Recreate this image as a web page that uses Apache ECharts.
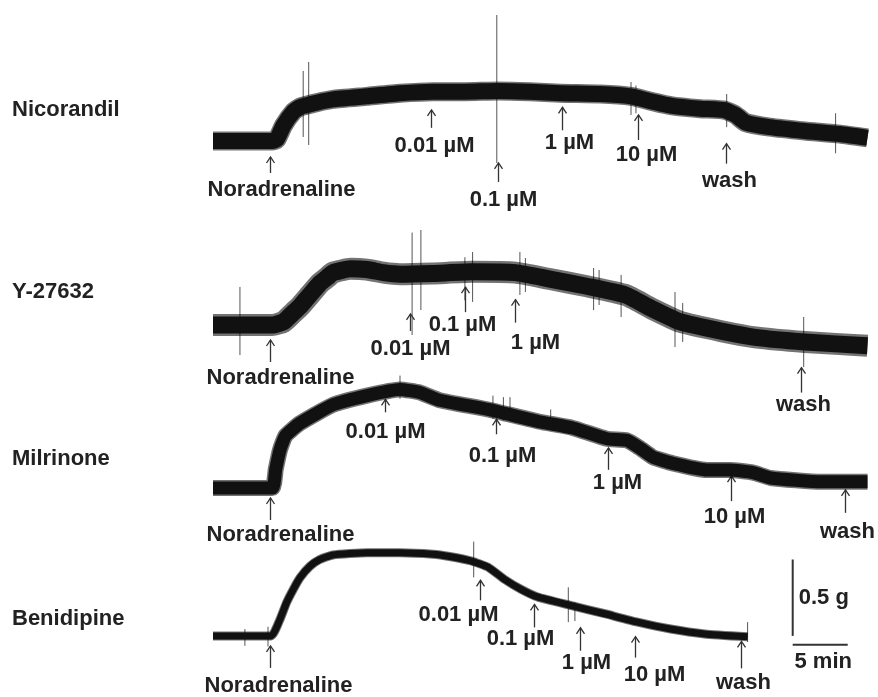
<!DOCTYPE html>
<html><head><meta charset="utf-8">
<script src="https://cdn.jsdelivr.net/npm/echarts@6/dist/echarts.min.js"></script>
<style>html,body{margin:0;padding:0;background:#fff}#c{width:878px;height:697px}</style>
</head><body><div id="c"></div>
<script>
// ---------- DATA (time in min, tension change in g vs resting level) ----------
const traceNames = ['Nicorandil', 'Y-27632', 'Milrinone', 'Benidipine'];

const nicorandil = [[0,0],[2.5,0],[5.4,0],[5.8,0.01],[6.4,0.10],[7.3,0.19],[7.9,0.22],[9.5,0.25],[10.9,0.27],[14.0,0.29],[17.0,0.31],[20.0,0.32],[22.9,0.32],[25.9,0.325],[28.8,0.32],[31.6,0.31],[35.2,0.305],[38.0,0.29],[39.7,0.26],[41.6,0.23],[44.3,0.21],[46.5,0.20],[47.5,0.17],[48.4,0.12],[50.6,0.09],[53.8,0.065],[57.0,0.045],[59.5,0.02]];
const y27632 = [[0,0],[2.5,0],[5.4,0],[6.4,0.02],[7.3,0.08],[7.9,0.12],[8.8,0.195],[9.7,0.27],[10.4,0.31],[10.9,0.34],[12.5,0.365],[14.0,0.36],[15.5,0.34],[17.0,0.33],[20.0,0.335],[23.5,0.345],[27.5,0.34],[30.5,0.30],[34.1,0.25],[37.5,0.195],[39.8,0.11],[42.5,0.02],[46.2,-0.04],[49.3,-0.08],[53.8,-0.11],[59.5,-0.135]];
const milrinone = [[0,0],[2.5,0],[5.4,0],[5.7,0.12],[6.1,0.25],[6.6,0.34],[7.9,0.42],[10.9,0.54],[14.0,0.60],[17.0,0.64],[18.8,0.62],[20.6,0.57],[25.0,0.51],[29.7,0.43],[32.7,0.39],[35.8,0.32],[37.6,0.31],[38.8,0.26],[40.0,0.20],[41.8,0.16],[44.9,0.117],[47.0,0.117],[49.1,0.10],[50.7,0.065],[55.3,0.04],[59.5,0.04]];
const benidipine = [[0,0],[2.5,0],[5.3,0],[6.1,0.11],[6.7,0.22],[7.3,0.305],[7.9,0.38],[8.8,0.455],[9.7,0.50],[10.9,0.53],[14.0,0.545],[17.0,0.545],[20.0,0.535],[21.5,0.52],[23.5,0.49],[25.0,0.45],[26.5,0.37],[28.0,0.305],[29.5,0.255],[32.5,0.20],[35.6,0.145],[38.6,0.09],[41.6,0.045],[44.7,0.013],[48.6,-0.006]];

// artefact spikes: [time, low g, high g]
const nicorandilSpikes = [[8.2,0.026,0.455],[8.7,-0.026,0.513],[25.8,-0.143,0.818],[38.0,0.169,0.383],[38.45,0.18,0.36],[46.7,0.09,0.305],[56.6,-0.08,0.18]];
const y27632Spikes = [[2.45,-0.195,0.247],[18.1,-0.065,0.60],[18.9,0.097,0.617],[22.9,0.16,0.44],[23.6,0.15,0.474],[27.9,0.195,0.474],[28.4,0.214,0.435],[34.6,0.097,0.37],[35.1,0.13,0.357],[37.1,0.052,0.325],[42.0,-0.143,0.214],[42.7,-0.11,0.143],[53.7,-0.273,0.052]];
const milrinoneSpikes = [[17.0,0.58,0.73],[25.45,0.45,0.60],[26.4,0.44,0.59],[27.0,0.49,0.59],[30.7,0.39,0.51]];
const benidipineSpikes = [[2.9,-0.065,0.045],[5.0,-0.07,0.06],[23.7,0.383,0.617],[32.3,0.09,0.318],[32.9,0.097,0.22],[48.6,-0.04,0.09]];

// drug additions
const nicorandilEvents = ['Noradrenaline','0.01 µM','0.1 µM','1 µM','10 µM','wash'];
const nicorandilEventTimes = [5.18,19.8,25.9,31.7,38.6,46.6];
const y27632Events = ['Noradrenaline','0.01 µM','0.1 µM','1 µM','wash'];
const y27632EventTimes = [5.18,17.9,22.9,27.45,53.45];
const milrinoneEvents = ['Noradrenaline','0.01 µM','0.1 µM','1 µM','10 µM','wash'];
const milrinoneEventTimes = [5.18,15.6,25.7,35.9,47.1,57.45];
const benidipineEvents = ['Noradrenaline','0.01 µM','0.1 µM','1 µM','10 µM','wash'];
const benidipineEventTimes = [5.18,24.3,29.2,33.4,38.4,48.0];

// calibration bar
const scaleTension = 0.5;   // g
const scaleTime = 5;        // min
const scaleLabels = ['0.5 g', '5 min'];

// ---------- LAYOUT / STYLE ----------
const PX_PER_MIN = 11, PX_PER_G = 154, Y_MIN = -0.4, Y_MAX = 0.9, X_MAX = 60;
const baselinePx = [141, 325, 488, 637];
const bandWidth = [16, 17, 13, 7];
const haloWidth = [19, 22, 16, 9];
const nameY = [111, 293, 460, 620];
// per event: [arrow tip below trace centre, arrow length, label centre below arrow end, label dx]
const eventLayout = [
  [[16,16,17,11],[18,18,18,3],[72,19,18,5],[14,23,13,7],[17,25,15,8],[33,20,17,3]],
  [[15,22,16,10],[40,17,18,0],[15,25,13,-3],[27,23,20,20],[26,25,12,2]],
  [[10,22,15,10],[7,13,20,0],[8,15,22,6],[9,22,13,9],[6,25,16,3],[8,23,19,2]],
  [[10,22,18,8],[16,20,15,-22],[9,23,12,-14],[20,23,12,6],[15,21,17,19],[5,27,15,2]]
];
const scaleBarT = 52.7;
const FONT = 'bold 22px "Liberation Sans", Arial, sans-serif';

const traces = [nicorandil, y27632, milrinone, benidipine];
const spikes = [nicorandilSpikes, y27632Spikes, milrinoneSpikes, benidipineSpikes];
const events = [nicorandilEvents, y27632Events, milrinoneEvents, benidipineEvents];
const eventTimes = [nicorandilEventTimes, y27632EventTimes, milrinoneEventTimes, benidipineEventTimes];

function levelAt(tr, t) {
  for (let i = 1; i < tr.length; i++) {
    if (t <= tr[i][0]) {
      const a = tr[i-1], b = tr[i];
      return a[1] + (b[1]-a[1]) * (t-a[0]) / (b[0]-a[0]);
    }
  }
  return tr[tr.length-1][1];
}

const grids = [], xAxes = [], yAxes = [], series = [];
traces.forEach((tr, i) => {
  grids.push({left: 213, width: X_MAX*PX_PER_MIN, top: baselinePx[i] - Y_MAX*PX_PER_G, height: (Y_MAX-Y_MIN)*PX_PER_G});
  xAxes.push({type:'value', gridIndex:i, min:0, max:X_MAX, show:false});
  yAxes.push({type:'value', gridIndex:i, min:Y_MIN, max:Y_MAX, show:false});
  // fuzzy noise fringe
  series.push({type:'line', xAxisIndex:i, yAxisIndex:i, data:tr, showSymbol:false, smooth:0.15, clip:false,
    lineStyle:{color:'rgba(0,0,0,0.55)', width:haloWidth[i], cap:'butt', join:'round'}, silent:true});
  series.push({type:'line', xAxisIndex:i, yAxisIndex:i, data:tr, showSymbol:false, smooth:0.15, clip:false,
    lineStyle:{color:'#111', width:bandWidth[i], cap:'butt', join:'round'}, silent:true});
  // spikes
  series.push({type:'custom', xAxisIndex:i, yAxisIndex:i, data:spikes[i], clip:false, silent:true,
    renderItem:(p, api) => {
      const a = api.coord([api.value(0), api.value(1)]), b = api.coord([api.value(0), api.value(2)]);
      return {type:'line', shape:{x1:a[0], y1:a[1], x2:b[0], y2:b[1]}, style:{stroke:'#555', lineWidth:1}};
    }});
  // arrows + labels
  const evData = eventTimes[i].map((t, k) => [t, k]);
  series.push({type:'custom', xAxisIndex:i, yAxisIndex:i, data:evData, clip:false, silent:true,
    renderItem:(p, api) => {
      const t = api.value(0), k = api.value(1);
      const L = eventLayout[i][k];
      const c = api.coord([t, levelAt(tr, t)]);
      const x = Math.round(c[0]) + 0.5, y0 = c[1] + L[0], y1 = y0 + L[1];
      return {type:'group', children:[
        {type:'line', shape:{x1:x, y1:y0, x2:x, y2:y1}, style:{stroke:'#333', lineWidth:1.3}},
        {type:'polyline', shape:{points:[[x-4, y0+6],[x, y0],[x+4, y0+6]]}, style:{stroke:'#333', lineWidth:1.3, fill:null}},
        {type:'text', style:{text:events[i][k], x:x + L[3], y:y1 + L[2], align:'center', verticalAlign:'middle', font:FONT, fill:'#222'}}
      ]};
    }});
});

// calibration bar on the last panel
series.push({type:'custom', xAxisIndex:3, yAxisIndex:3, data:[[scaleBarT, 0]], clip:false, silent:true,
  renderItem:(p, api) => {
    const t = api.value(0);
    const a = api.coord([t, 0]), b = api.coord([t, scaleTension]);
    const h0 = api.coord([t, -0.058]), h1 = api.coord([t + scaleTime, -0.058]);
    const mid = api.coord([t, scaleTension/2]);
    return {type:'group', children:[
      {type:'line', shape:{x1:a[0], y1:a[1], x2:b[0], y2:b[1]}, style:{stroke:'#333', lineWidth:2}},
      {type:'line', shape:{x1:h0[0], y1:h0[1], x2:h1[0], y2:h1[1]}, style:{stroke:'#333', lineWidth:2}},
      {type:'text', style:{text:scaleLabels[0], x:a[0]+6, y:mid[1], align:'left', verticalAlign:'middle', font:FONT, fill:'#222'}},
      {type:'text', style:{text:scaleLabels[1], x:(h0[0]+h1[0])/2 + 3, y:h0[1]+17, align:'center', verticalAlign:'middle', font:FONT, fill:'#222'}}
    ]};
  }});

const chart = echarts.init(document.getElementById('c'), null, {renderer:'canvas'});
chart.setOption({
  animation:false,
  backgroundColor:'#fff',
  grid:grids, xAxis:xAxes, yAxis:yAxes, series:series,
  graphic: traceNames.map((n, i) => ({type:'text', left:12, top:nameY[i]-12,
    style:{text:n, font:FONT, fill:'#222'}}))
});
</script></body></html>
